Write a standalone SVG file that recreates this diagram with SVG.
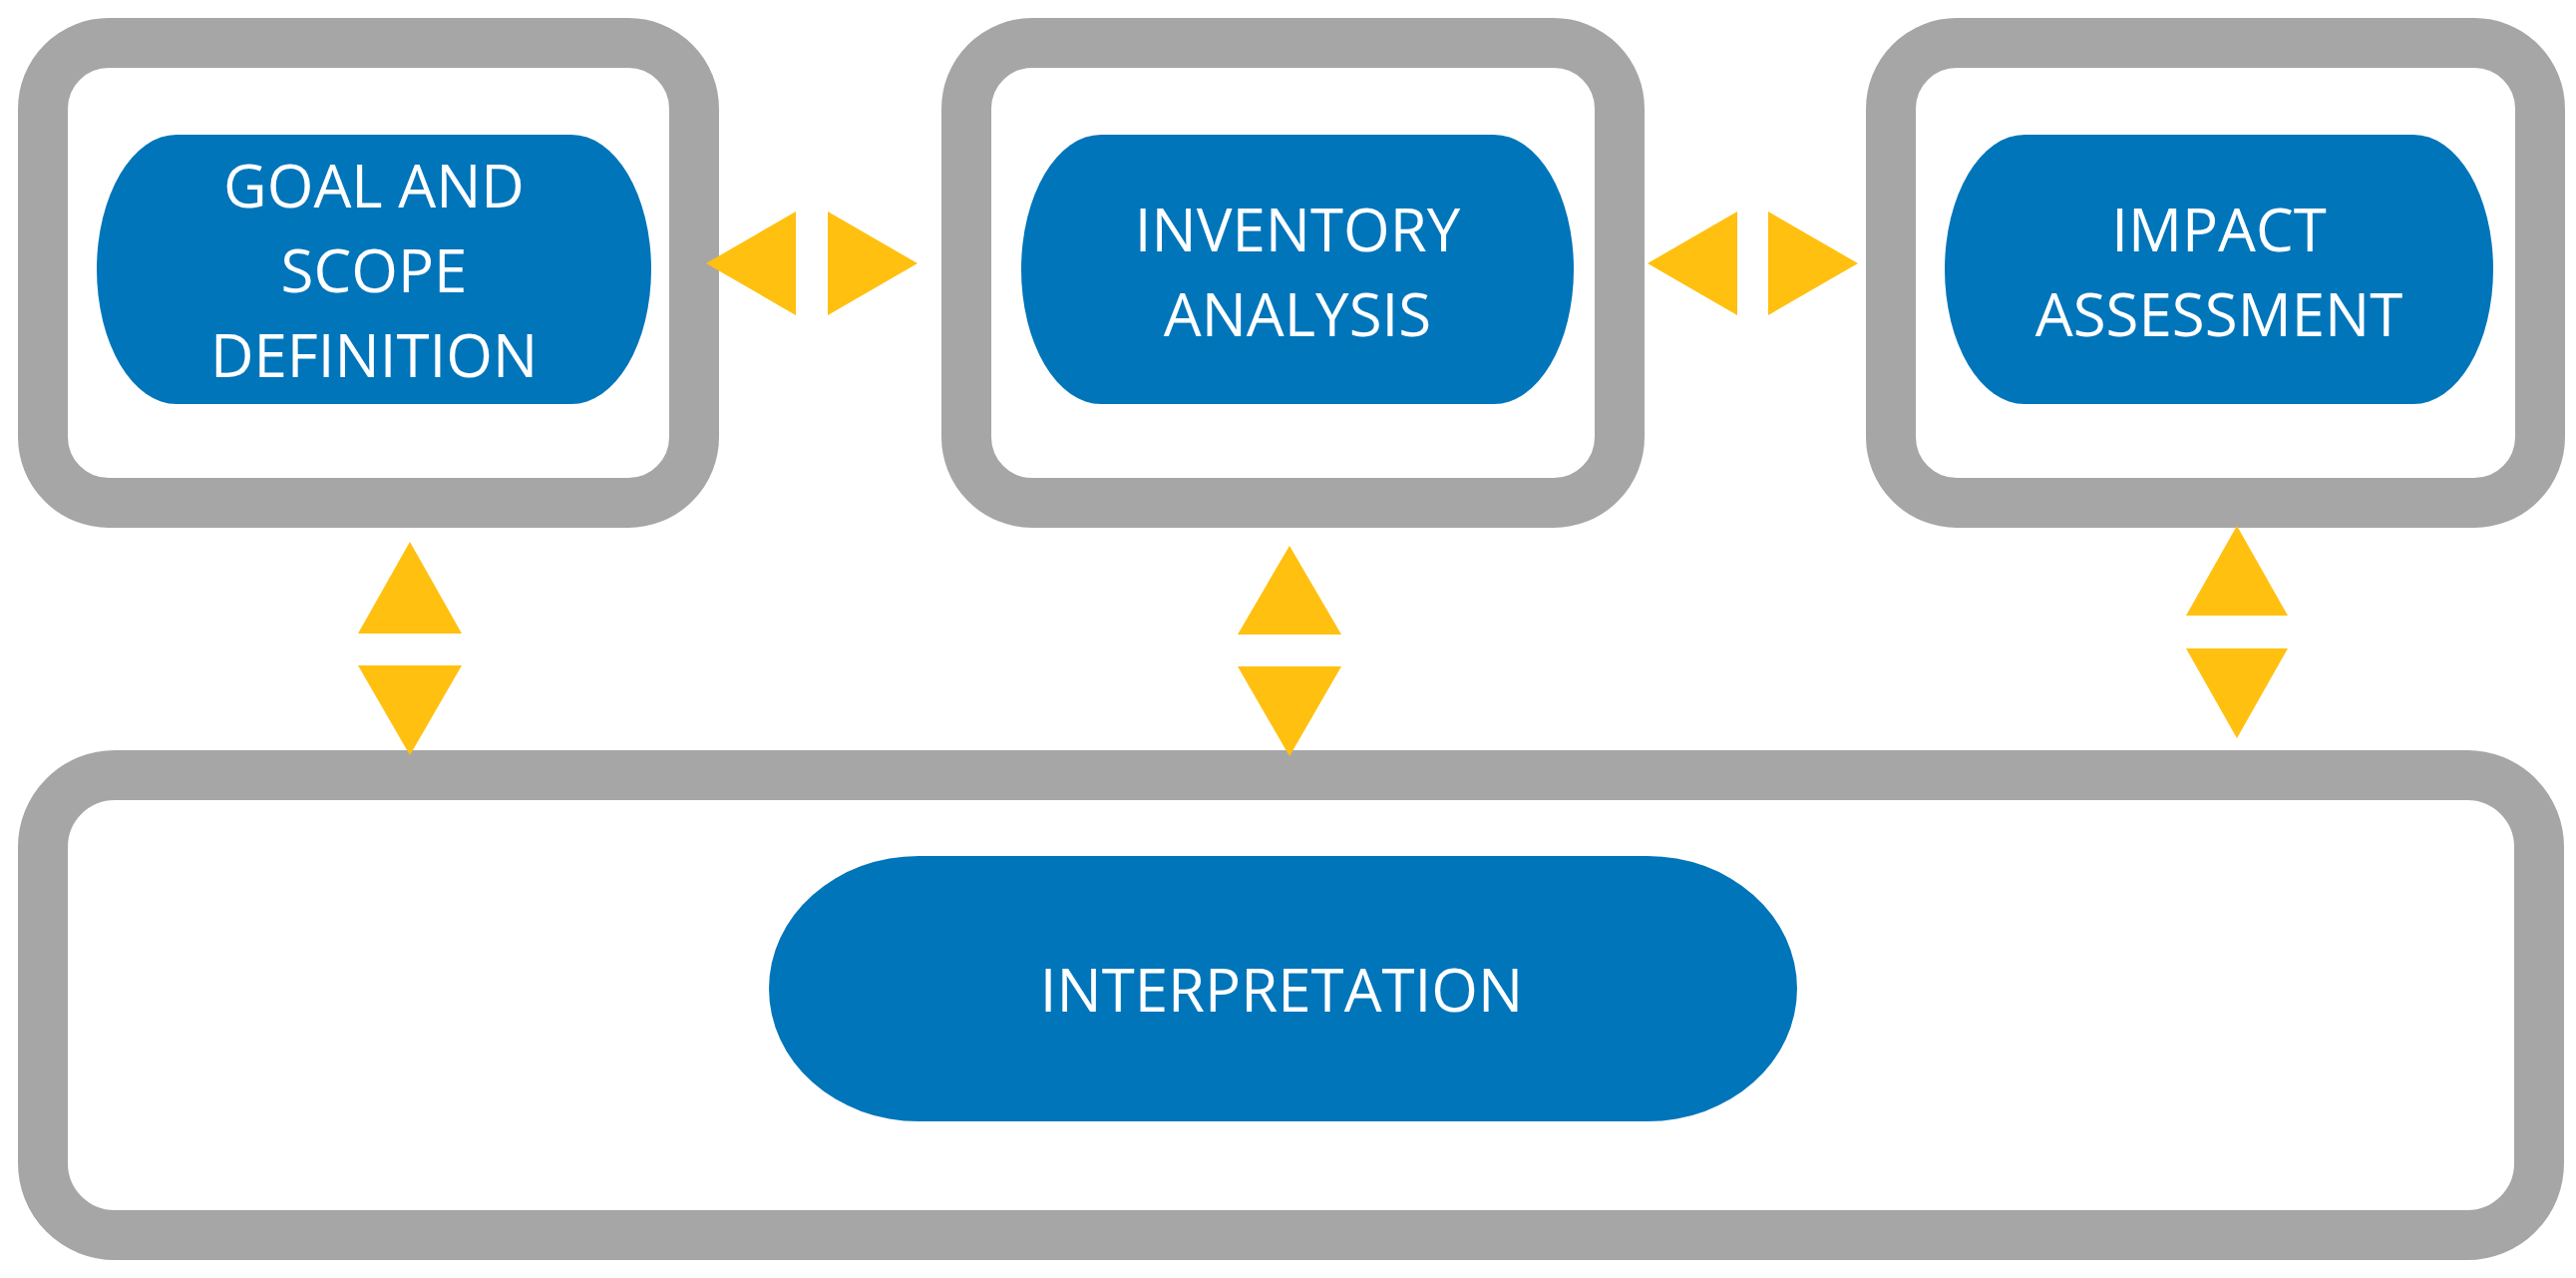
<svg xmlns="http://www.w3.org/2000/svg" width="2583" height="1281" viewBox="0 0 2583 1281">
<style>
.frame{fill:#FFFFFF;stroke:#A6A6A6;stroke-width:50}
.pill{fill:#0075BA}
.tri{fill:#FFC010}
</style>
<rect x="0" y="0" width="2583" height="1281" fill="#FFFFFF"/>
<g font-family="'Open Sans', Lato, sans-serif" font-size="60" fill="#FFFFFF" text-anchor="middle">
<g id="goal">
<rect class="frame" x="43" y="43" width="653" height="461" rx="66" ry="66"/>
<rect class="pill" x="97" y="135" width="556" height="270" rx="80" ry="135"/>
<text x="375" y="208">GOAL AND</text>
<text x="375" y="293">SCOPE</text>
<text x="375" y="378">DEFINITION</text>
</g>
<g id="inventory">
<rect class="frame" x="969" y="43" width="655" height="461" rx="66" ry="66"/>
<rect class="pill" x="1024" y="135" width="554" height="270" rx="80" ry="135"/>
<text x="1301" y="252">INVENTORY</text>
<text x="1301" y="337">ANALYSIS</text>
</g>
<g id="impact">
<rect class="frame" x="1896" y="43" width="651" height="461" rx="66" ry="66"/>
<rect class="pill" x="1950" y="135" width="550" height="270" rx="80" ry="135"/>
<text x="2225" y="252">IMPACT</text>
<text x="2225" y="337">ASSESSMENT</text>
</g>
<g id="interpretation">
<rect class="frame" x="43" y="777" width="2503" height="461" rx="72" ry="72"/>
<rect class="pill" x="771" y="858" width="1031" height="266" rx="150" ry="133"/>
<text x="1285" y="1014">INTERPRETATION</text>
</g>
</g>
<g id="connectors">
<polygon class="tri" points="708,264 798,212 798,316"/>
<polygon class="tri" points="920,264 830,212 830,316"/>
<polygon class="tri" points="1652,264 1742,212 1742,316"/>
<polygon class="tri" points="1863,264 1773,212 1773,316"/>
<polygon class="tri" points="411,543 359,635 463,635"/>
<polygon class="tri" points="411,757 359,667 463,667"/>
<polygon class="tri" points="1293,547 1241,636 1345,636"/>
<polygon class="tri" points="1293,758 1241,668 1345,668"/>
<polygon class="tri" points="2243,527 2192,617 2294,617"/>
<polygon class="tri" points="2243,740 2192,650 2294,650"/>
</g>
</svg>
